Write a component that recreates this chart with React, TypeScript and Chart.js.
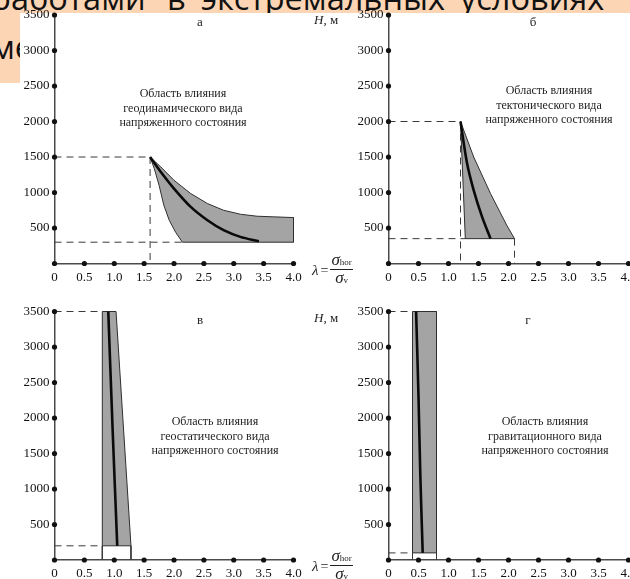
import React, { useEffect, useRef } from "react";
import { Chart, registerables } from "chart.js";

Chart.register(...registerables);

const SERIF = "'Liberation Serif', 'Times New Roman', serif";

// Shared axis ticks
const LAMBDA_TICKS = [0, 0.5, 1, 1.5, 2, 2.5, 3, 3.5, 4];
const DEPTH_TICKS = [500, 1000, 1500, 2000, 2500, 3000, 3500];

// Panel а — geodynamic
const A_BAND_LAM = [1.6, 1.78, 2.0, 2.28, 2.56, 2.83, 3.11, 3.39, 3.67, 4.0, 4.0, 2.14, 2.03, 1.92, 1.83, 1.75, 1.67, 1.6];
const A_BAND_H = [1500, 1359, 1172, 985, 844, 750, 694, 666, 657, 647, 300, 300, 436, 609, 820, 1102, 1337, 1500];
const A_CURVE_LAM = [1.6, 1.78, 2.0, 2.28, 2.56, 2.83, 3.11, 3.42];
const A_CURVE_H = [1500, 1289, 1055, 797, 609, 469, 375, 314];

// Panel б — tectonic
const B_BAND_LAM = [1.2, 1.42, 1.7, 1.97, 2.1, 1.28, 1.2];
const B_BAND_H = [2000, 1500, 985, 540, 350, 350, 2000];
const B_CURVE_LAM = [1.2, 1.31, 1.42, 1.56, 1.7];
const B_CURVE_H = [2000, 1407, 1031, 656, 350];

// Panel в — geostatic
const C_BAND_LAM = [0.8, 1.03, 1.28, 0.8, 0.8];
const C_BAND_H = [3500, 3500, 200, 200, 3500];
const C_CURVE_LAM = [0.9, 0.97, 1.05];
const C_CURVE_H = [3500, 1900, 200];

// Panel г — gravitational
const D_BAND_LAM = [0.4, 0.8, 0.8, 0.4, 0.4];
const D_BAND_H = [3500, 3500, 100, 100, 3500];
const D_CURVE_LAM = [0.46, 0.5, 0.53, 0.57];
const D_CURVE_H = [3500, 2300, 1200, 100];

type Seg = { lam: number[]; h: number[]; solid?: boolean };

const A_GUIDES: Seg[] = [
  { lam: [0, 1.6], h: [1500, 1500] },
  { lam: [1.6, 1.6], h: [1500, 0] },
  { lam: [0, 2.14], h: [300, 300] },
];
const B_GUIDES: Seg[] = [
  { lam: [0, 1.2], h: [2000, 2000] },
  { lam: [1.2, 1.2], h: [2000, 0] },
  { lam: [0, 1.28], h: [350, 350] },
  { lam: [2.1, 2.1], h: [350, 0] },
];
const C_GUIDES: Seg[] = [
  { lam: [0, 0.8], h: [3500, 3500] },
  { lam: [0, 0.8], h: [200, 200] },
  { lam: [0.8, 0.8], h: [200, 0], solid: true },
  { lam: [1.28, 1.28], h: [200, 0], solid: true },
];
const D_GUIDES: Seg[] = [
  { lam: [0, 0.4], h: [3500, 3500] },
  { lam: [0, 0.4], h: [100, 100] },
  { lam: [0.4, 0.4], h: [100, 0], solid: true },
  { lam: [0.8, 0.8], h: [100, 0], solid: true },
];

const pts = (lam: number[], h: number[]) => lam.map((x, i) => ({ x, y: h[i] }));

interface PanelSpec {
  bandLam: number[];
  bandH: number[];
  curveLam: number[];
  curveH: number[];
  guides: Seg[];
  yAxisWidth: number;
  padTop: number;
  padRight: number;
  xAxisHeight: number;
}

function PanelChart(props: { spec: PanelSpec; left: number; top: number; width: number; height: number }) {
  const { spec, left, top, width, height } = props;
  const ref = useRef<HTMLCanvasElement>(null);
  useEffect(() => {
    const tickDots = [
      ...LAMBDA_TICKS.map((x) => ({ x, y: 0 })),
      ...DEPTH_TICKS.map((y) => ({ x: 0, y })),
    ];
    const guideSets = spec.guides.map((g) => ({
      data: pts(g.lam, g.h),
      borderColor: "#3a3a3a",
      borderWidth: 1,
      borderDash: g.solid ? [] : [7, 5],
      pointRadius: 0,
      fill: false,
      clip: false as any,
      tension: 0,
      order: 5,
    }));
    const tickFont = { family: SERIF, size: 13 };
    const chart = new Chart(ref.current as HTMLCanvasElement, {
      type: "line",
      data: {
        datasets: [
          {
            data: tickDots,
            showLine: false,
            pointRadius: 2.6,
            pointBackgroundColor: "#111",
            pointBorderWidth: 0,
            clip: false as any,
            order: 0,
          },
          {
            data: pts(spec.curveLam, spec.curveH),
            borderColor: "#0a0a0a",
            borderWidth: 2.6,
            pointRadius: 0,
            tension: 0.3,
            clip: false as any,
            fill: false,
            order: 1,
          },
          {
            data: pts(spec.bandLam, spec.bandH),
            borderColor: "#2f2f2f",
            borderWidth: 1,
            backgroundColor: "#a4a4a4",
            fill: "shape",
            pointRadius: 0,
            tension: 0,
            clip: false as any,
            order: 2,
          },
          ...guideSets,
        ] as any,
      },
      options: {
        responsive: false,
        animation: false,
        events: [],
        layout: { padding: { left: 0, top: spec.padTop, right: spec.padRight, bottom: 0 } },
        plugins: { legend: { display: false }, tooltip: { enabled: false } },
        scales: {
          x: {
            type: "linear",
            min: 0,
            max: 4,
            grid: { display: false, drawTicks: false },
            border: { display: true, color: "#4a4a4a", width: 1.5 },
            ticks: {
              stepSize: 0.5,
              autoSkip: false,
              maxRotation: 0,
              padding: 6,
              color: "#111",
              font: tickFont,
              callback: (v: any) => (Number(v) === 0 ? "0" : Number(v).toFixed(1)),
            },
            afterFit: (s: any) => {
              s.height = spec.xAxisHeight;
            },
          },
          y: {
            type: "linear",
            min: 0,
            max: 3500,
            grid: { display: false, drawTicks: false },
            border: { display: true, color: "#4a4a4a", width: 1.5 },
            ticks: {
              stepSize: 500,
              autoSkip: false,
              padding: 5,
              color: "#111",
              font: tickFont,
              callback: (v: any) => (Number(v) === 0 ? "" : String(v)),
            },
            afterFit: (s: any) => {
              s.width = spec.yAxisWidth;
            },
          },
        },
      } as any,
    });
    return () => chart.destroy();
  }, []);
  return (
    <canvas
      ref={ref}
      width={width}
      height={height}
      style={{ position: "absolute", left, top, width, height }}
    />
  );
}

const SPEC_A: PanelSpec = {
  bandLam: A_BAND_LAM, bandH: A_BAND_H, curveLam: A_CURVE_LAM, curveH: A_CURVE_H, guides: A_GUIDES,
  yAxisWidth: 54.5, padTop: 15, padRight: 21.5, xAxisHeight: 26.5,
};
const SPEC_B: PanelSpec = {
  bandLam: B_BAND_LAM, bandH: B_BAND_H, curveLam: B_CURVE_LAM, curveH: B_CURVE_H, guides: B_GUIDES,
  yAxisWidth: 73.5, padTop: 15, padRight: 16.5, xAxisHeight: 26.5,
};
const SPEC_C: PanelSpec = {
  bandLam: C_BAND_LAM, bandH: C_BAND_H, curveLam: C_CURVE_LAM, curveH: C_CURVE_H, guides: C_GUIDES,
  yAxisWidth: 54.5, padTop: 21.5, padRight: 21.5, xAxisHeight: 19,
};
const SPEC_D: PanelSpec = {
  bandLam: D_BAND_LAM, bandH: D_BAND_H, curveLam: D_CURVE_LAM, curveH: D_CURVE_H, guides: D_GUIDES,
  yAxisWidth: 73.5, padTop: 21.5, padRight: 16.5, xAxisHeight: 19,
};

const textBase: React.CSSProperties = {
  position: "absolute",
  fontFamily: SERIF,
  color: "#1e1e1e",
  whiteSpace: "nowrap",
};

function Note(props: { cx: number; top: number; lines: string[] }) {
  return (
    <div
      style={{
        ...textBase,
        left: props.cx,
        top: props.top,
        transform: "translateX(-50%)",
        textAlign: "center",
        fontSize: 12,
        lineHeight: "14.5px",
      }}
    >
      {props.lines.map((l, i) => (
        <div key={i}>{l}</div>
      ))}
    </div>
  );
}

function Letter(props: { cx: number; cy: number; t: string }) {
  return (
    <div style={{ ...textBase, left: props.cx, top: props.cy - 8, transform: "translateX(-50%)", fontSize: 13, lineHeight: "16px" }}>
      {props.t}
    </div>
  );
}

function HLabel(props: { left: number; cy: number }) {
  return (
    <div style={{ ...textBase, left: props.left, top: props.cy - 8, fontSize: 13, lineHeight: "16px" }}>
      <i>H</i>, м
    </div>
  );
}

function Lambda(props: { left: number; top: number }) {
  return (
    <div
      style={{
        ...textBase,
        left: props.left,
        top: props.top,
        display: "flex",
        alignItems: "center",
        fontSize: 14,
      }}
    >
      <i style={{ fontSize: 15 }}>λ</i>
      <span style={{ margin: "0 2px" }}>=</span>
      <span style={{ display: "inline-flex", flexDirection: "column", alignItems: "center" }}>
        <span style={{ borderBottom: "1px solid #222", lineHeight: "14px", padding: "0 1px" }}>
          <i style={{ fontSize: 17 }}>σ</i>
          <span style={{ fontSize: 9 }}>hor</span>
        </span>
        <span style={{ lineHeight: "15px" }}>
          <i style={{ fontSize: 17 }}>σ</i>
          <span style={{ fontSize: 9 }}>v</span>
        </span>
      </span>
    </div>
  );
}

const SLIDE_FS = 32.5;
function slideWord(text: string, left: number, baseline: number) {
  return (
    <span
      key={text + left}
      style={{ position: "absolute", left, top: baseline - 0.888 * SLIDE_FS, lineHeight: SLIDE_FS + "px", whiteSpace: "nowrap" }}
    >
      {text}
    </span>
  );
}

export default function App() {
  return (
    <div
      style={{
        position: "fixed",
        left: 0,
        top: 0,
        width: 630,
        height: 579,
        overflow: "hidden",
        background: "#ffffff",
      }}
    >
      <div
        style={{
          position: "absolute",
          left: 0,
          top: 0,
          width: 630,
          height: 83,
          background: "#fcd5b5",
          clipPath: "polygon(0px 0px, 630px 0px, 630px 13px, 20px 13px, 20px 83px, 0px 83px)",
          fontFamily: "'Open Sans', sans-serif",
          fontSize: SLIDE_FS,
          color: "#111",
          overflow: "hidden",
        }}
      >
        {slideWord("работами", -9, 10.5)}
        {slideWord("в", 167, 10.5)}
        {slideWord("экстремальных", 201, 10.5)}
        {slideWord("условиях", 460, 10.5)}
        {slideWord("ме", -9, 60)}
      </div>

      <PanelChart spec={SPEC_A} left={0} top={0} width={315} height={290} />
      <PanelChart spec={SPEC_B} left={315} top={0} width={330} height={290} />
      <PanelChart spec={SPEC_C} left={0} top={290} width={315} height={289} />
      <PanelChart spec={SPEC_D} left={315} top={290} width={330} height={289} />

      <Letter cx={200} cy={22} t="а" />
      <Letter cx={533} cy={22} t="б" />
      <Letter cx={200} cy={320} t="в" />
      <Letter cx={528} cy={320} t="г" />

      <Note cx={183} top={86} lines={["Область влияния", "геодинамического вида", "напряженного состояния"]} />
      <Note cx={549} top={83} lines={["Область влияния", "тектонического вида", "напряженного состояния"]} />
      <Note cx={215} top={414} lines={["Область влияния", "геостатического вида", "напряженного состояния"]} />
      <Note cx={545} top={414} lines={["Область влияния", "гравитационного вида", "напряженного состояния"]} />

      <HLabel left={314} cy={20} />
      <HLabel left={314} cy={318} />

      <Lambda left={312} top={253} />
      <Lambda left={312} top={549} />
    </div>
  );
}
